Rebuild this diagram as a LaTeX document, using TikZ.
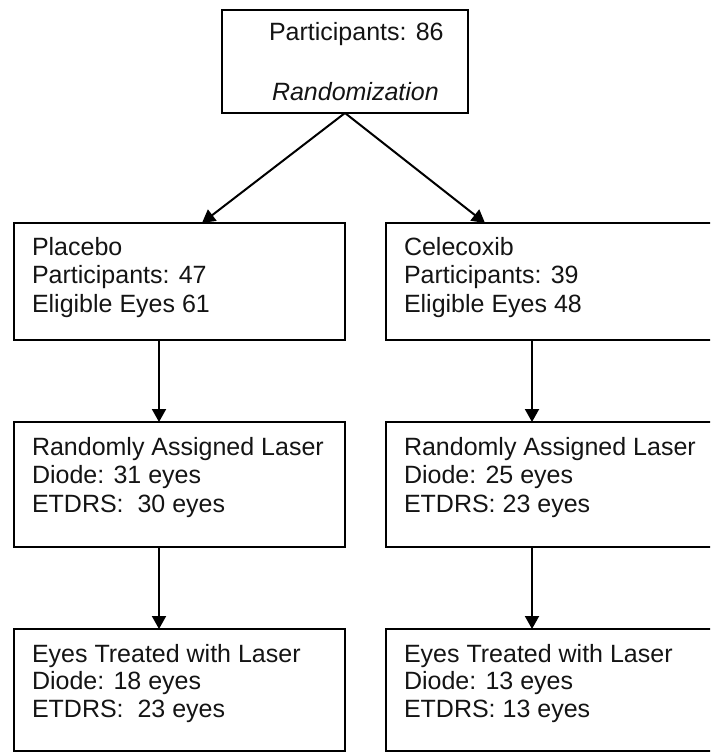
\documentclass[tikz,border=0pt]{standalone}
\usepackage{fontspec}
\setmainfont{Liberation Sans}
\usetikzlibrary{arrows.meta}
\begin{document}
\begin{tikzpicture}[x=1pt,y=-1pt,
  box/.style={draw=black, line width=2.6pt, inner sep=0pt, outer sep=0pt, anchor=north west},
  txt/.style={inner sep=0pt, outer sep=0pt, anchor=base west, text=black!92, font=\fontsize{25}{30}\selectfont},
  arr/.style={draw=black, line width=2pt, -{Triangle[width=14pt,length=13pt]}}]
\useasboundingbox (0,0) rectangle (710,752);
\clip (0,0) rectangle (710,752);
% boxes
\node[box, minimum width=246pt, minimum height=103pt] (top) at (222,10) {};
\node[box, minimum width=331pt, minimum height=117pt] (p2) at (14,223) {};
\node[box, minimum width=331pt, minimum height=117pt] (c2) at (386,223) {};
\node[box, minimum width=331pt, minimum height=125pt] (p3) at (14,422) {};
\node[box, minimum width=331pt, minimum height=125pt] (c3) at (386,422) {};
\node[box, minimum width=331pt, minimum height=122pt] (p4) at (14,629) {};
\node[box, minimum width=331pt, minimum height=122pt] (c4) at (386,629) {};
% texts
\node[txt] (t1) at (269,41) {Participants: 86};
\node[txt] (t2) at (272,100) {\itshape Randomization};
\node[txt] (p2a) at (32,255) {Placebo};
\node[txt] (p2b) at (32,283.5) {Participants: 47};
\node[txt] (p2c) at (32,312) {Eligible Eyes 61};
\node[txt] (c2a) at (404,255) {Celecoxib};
\node[txt] (c2b) at (404,283.5) {Participants: 39};
\node[txt] (c2c) at (404,312) {Eligible Eyes 48};
\node[txt] (p3a) at (32,455) {Randomly Assigned Laser};
\node[txt] (p3b) at (32,483.5) {Diode: 31 eyes};
\node[txt] (p3c) at (32,512) {ETDRS:\ \ 30 eyes};
\node[txt] (c3a) at (404,455) {Randomly Assigned Laser};
\node[txt] (c3b) at (404,483.5) {Diode: 25 eyes};
\node[txt] (c3c) at (404,512) {ETDRS: 23 eyes};
\node[txt] (p4a) at (32,662) {Eyes Treated with Laser};
\node[txt] (p4b) at (32,689.5) {Diode: 18 eyes};
\node[txt] (p4c) at (32,717) {ETDRS:\ \ 23 eyes};
\node[txt] (c4a) at (404,662) {Eyes Treated with Laser};
\node[txt] (c4b) at (404,689.5) {Diode: 13 eyes};
\node[txt] (c4c) at (404,717) {ETDRS: 13 eyes};
% connectors
\draw[arr] (top.south) -- ([xshift=188pt]p2.north west);
\draw[arr] (top.south) -- ([xshift=99pt]c2.north west);
\draw[arr] ([xshift=145pt]p2.south west) -- ([xshift=145pt]p3.north west);
\draw[arr] ([xshift=146pt]c2.south west) -- ([xshift=146pt]c3.north west);
\draw[arr] ([xshift=145pt]p3.south west) -- ([xshift=145pt]p4.north west);
\draw[arr] ([xshift=146pt]c3.south west) -- ([xshift=146pt]c4.north west);
\end{tikzpicture}
\end{document}
